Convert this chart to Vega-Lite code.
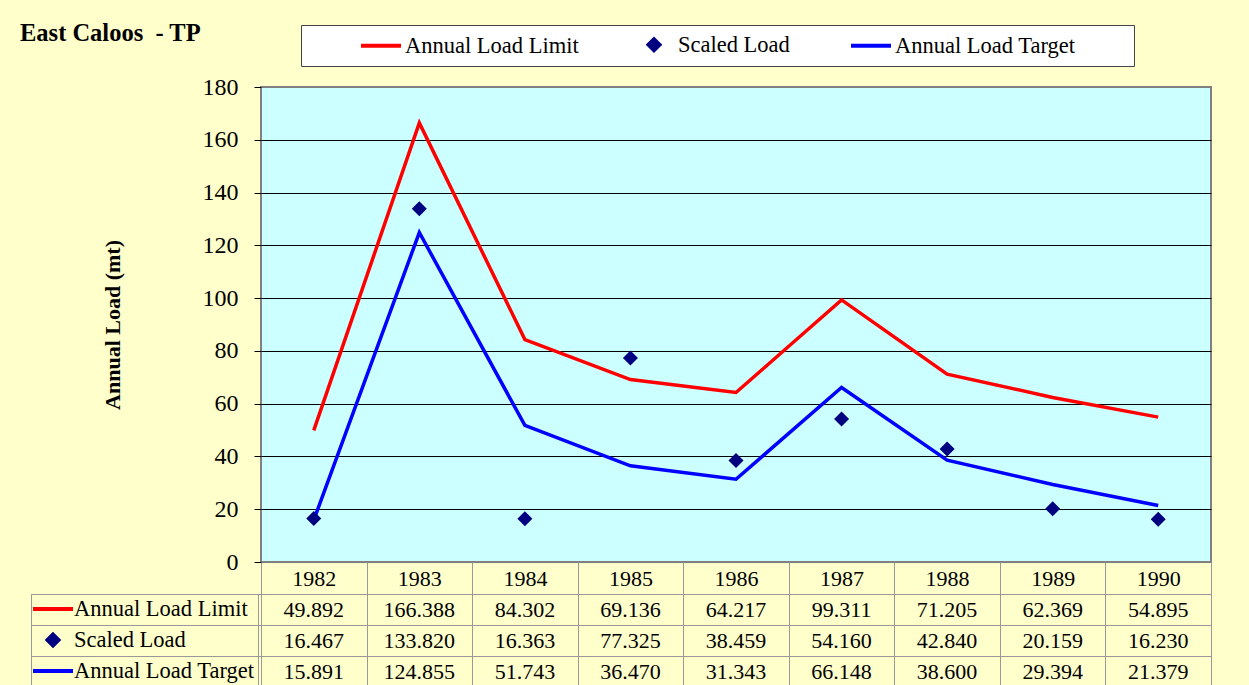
{
  "$schema": "https://vega.github.io/schema/vega-lite/v6.json",
  "background": "#FFFFCC",
  "padding": {"left": 20, "top": 21, "right": 40, "bottom": 0},
  "config": {
    "font": "Liberation Serif",
    "text": {"font": "Liberation Serif"}
  },
  "title": {
    "text": "East Caloos\u00a0 - TP",
    "anchor": "start",
    "frame": "bounds",
    "font": "Liberation Serif",
    "fontSize": 24.5,
    "fontWeight": "bold",
    "color": "black",
    "dx": -10,
    "dy": 23,
    "offset": 0
  },
  "datasets": {
    "loads": [
      {"year": "1982", "series": "Annual Load Limit", "value": 49.892},
      {"year": "1983", "series": "Annual Load Limit", "value": 166.388},
      {"year": "1984", "series": "Annual Load Limit", "value": 84.302},
      {"year": "1985", "series": "Annual Load Limit", "value": 69.136},
      {"year": "1986", "series": "Annual Load Limit", "value": 64.217},
      {"year": "1987", "series": "Annual Load Limit", "value": 99.311},
      {"year": "1988", "series": "Annual Load Limit", "value": 71.205},
      {"year": "1989", "series": "Annual Load Limit", "value": 62.369},
      {"year": "1990", "series": "Annual Load Limit", "value": 54.895},
      {"year": "1982", "series": "Scaled Load", "value": 16.467},
      {"year": "1983", "series": "Scaled Load", "value": 133.820},
      {"year": "1984", "series": "Scaled Load", "value": 16.363},
      {"year": "1985", "series": "Scaled Load", "value": 77.325},
      {"year": "1986", "series": "Scaled Load", "value": 38.459},
      {"year": "1987", "series": "Scaled Load", "value": 54.160},
      {"year": "1988", "series": "Scaled Load", "value": 42.840},
      {"year": "1989", "series": "Scaled Load", "value": 20.159},
      {"year": "1990", "series": "Scaled Load", "value": 16.230},
      {"year": "1982", "series": "Annual Load Target", "value": 15.891},
      {"year": "1983", "series": "Annual Load Target", "value": 124.855},
      {"year": "1984", "series": "Annual Load Target", "value": 51.743},
      {"year": "1985", "series": "Annual Load Target", "value": 36.470},
      {"year": "1986", "series": "Annual Load Target", "value": 31.343},
      {"year": "1987", "series": "Annual Load Target", "value": 66.148},
      {"year": "1988", "series": "Annual Load Target", "value": 38.600},
      {"year": "1989", "series": "Annual Load Target", "value": 29.394},
      {"year": "1990", "series": "Annual Load Target", "value": 21.379}
    ]
  },
  "vconcat": [
    {
      "width": 950,
      "height": 475,
      "view": {"fill": "#CCFFFF", "stroke": "#808080", "strokeWidth": 2},
      "data": {"name": "loads"},
      "encoding": {
        "x": {
          "field": "year",
          "type": "ordinal",
          "scale": {"paddingInner": 0, "paddingOuter": 0},
          "axis": {
            "title": null,
            "labelAngle": 0,
            "labelFontSize": 22,
            "labelColor": "black",
            "labelBaseline": "middle",
            "labelPadding": -16,
            "tickBand": "extent",
            "tickSize": 32,
            "tickColor": "#999999",
            "domain": false,
            "grid": false
          }
        },
        "y": {
          "field": "value",
          "type": "quantitative",
          "scale": {"domain": [0, 180], "nice": false},
          "axis": {
            "title": "Annual Load (mt)",
            "titleFontSize": 22,
            "titleFontWeight": "bold",
            "titleColor": "black",
            "titlePadding": 78,
            "values": [0, 20, 40, 60, 80, 100, 120, 140, 160, 180],
            "labelFontSize": 24,
            "labelColor": "black",
            "labelPadding": 16,
            "tickSize": 7,
            "tickColor": "black",
            "domain": false,
            "grid": true,
            "gridColor": {"condition": {"test": "datum.value == 0 || datum.value == 180", "value": "transparent"}, "value": "black"},
            "gridWidth": 1
          }
        },
        "color": {
          "field": "series",
          "type": "nominal",
          "scale": {
            "domain": ["Annual Load Limit", "Scaled Load", "Annual Load Target"],
            "range": ["#FF0000", "#000080", "#0000FF"]
          },
          "legend": {
            "orient": "none",
            "legendX": 40,
            "legendY": -62,
            "direction": "horizontal",
            "title": " ",
            "titleOrient": "left",
            "titlePadding": 50.5,
            "titleFontSize": 20,
            "padding": 7.5,
            "fillColor": "white",
            "strokeColor": "#444444",
            "symbolSize": 400,
            "symbolOffset": 10,
            "symbolStrokeWidth": 4,
            "labelFontSize": 22.5,
            "labelColor": "black",
            "labelOffset": 12,
            "labelLimit": 400,
            "columnPadding": 53,
            "labelExpr": "datum.label == 'Annual Load Target' ? datum.label + '\u2800\u2800\u2800' : datum.label",
            "encode": {
              "symbols": {
                "update": {
                  "shape": {"signal": "datum.value === 'Scaled Load' ? 'diamond' : 'M-2,0L2,0'"},
                  "size": {"signal": "datum.value === 'Scaled Load' ? 120 : 400"},
                  "fill": {"signal": "datum.value === 'Scaled Load' ? '#000080' : 'transparent'"},
                  "stroke": {"signal": "datum.value === 'Annual Load Limit' ? '#FF0000' : datum.value === 'Annual Load Target' ? '#0000FF' : 'transparent'"},
                  "strokeWidth": {"value": 4},
                  "opacity": {"value": 1}
                }
              }
            }
          }
        }
      },
      "layer": [
        {
          "transform": [{"filter": "datum.series != 'Scaled Load'"}],
          "mark": {"type": "line", "strokeWidth": 3.5}
        },
        {
          "transform": [{"filter": "datum.series == 'Scaled Load'"}],
          "mark": {"type": "point", "shape": "diamond", "filled": true, "size": 225, "opacity": 1}
        }
      ]
    },
    {
      "width": 950,
      "height": 93,
      "view": {"fill": null, "stroke": "#999999", "strokeWidth": 1},
      "data": {"name": "loads"},
      "encoding": {
        "x": {
          "field": "year",
          "type": "ordinal",
          "scale": {"paddingInner": 0, "paddingOuter": 0},
          "axis": {
            "title": null,
            "labels": false,
            "ticks": false,
            "domain": false,
            "grid": true,
            "tickBand": "extent",
            "gridColor": "#999999"
          }
        },
        "y": {
          "field": "series",
          "type": "nominal",
          "sort": ["Annual Load Limit", "Scaled Load", "Annual Load Target"],
          "scale": {"paddingInner": 0, "paddingOuter": 0},
          "axis": {
            "title": null,
            "labels": false,
            "ticks": true,
            "tickSize": 230,
            "tickColor": "#999999",
            "tickBand": "extent",
            "domain": false,
            "grid": true,
            "gridColor": "#999999"
          }
        }
      },
      "layer": [
        {
          "mark": {"type": "text", "fontSize": 22, "color": "black", "font": "Liberation Serif"},
          "encoding": {"text": {"field": "value", "type": "quantitative", "format": ".3f"}}
        },
        {
          "encoding": {
            "color": {
              "field": "series",
              "type": "nominal",
              "scale": {
                "domain": ["Annual Load Limit", "Scaled Load", "Annual Load Target"],
                "range": ["#FF0000", "#000080", "#0000FF"]
              },
              "legend": {
                "orient": "none",
                "legendX": -230,
                "legendY": 0,
                "direction": "vertical",
                "title": null,
                "padding": 3,
                "strokeColor": "#999999",
                "symbolSize": 400,
                "symbolOffset": 7,
                "symbolStrokeWidth": 4,
                "labelFontSize": 22.5,
                "labelColor": "black",
                "labelOffset": 9,
                "labelLimit": 400,
                "rowPadding": 5,
                "encode": {
                  "symbols": {
                    "update": {
                      "shape": {"signal": "datum.value === 'Scaled Load' ? 'diamond' : 'M-2,0L2,0'"},
                      "size": {"signal": "datum.value === 'Scaled Load' ? 120 : 400"},
                      "fill": {"signal": "datum.value === 'Scaled Load' ? '#000080' : 'transparent'"},
                      "stroke": {"signal": "datum.value === 'Annual Load Limit' ? '#FF0000' : datum.value === 'Annual Load Target' ? '#0000FF' : 'transparent'"},
                      "strokeWidth": {"value": 4},
                      "opacity": {"value": 1}
                    }
                  }
                }
              }
            }
          },
          "layer": [
            {
              "transform": [{"filter": "datum.series != 'Scaled Load'"}],
              "mark": {"type": "line", "strokeWidth": 3.5, "opacity": 0}
            },
            {
              "transform": [{"filter": "datum.series == 'Scaled Load'"}],
              "mark": {"type": "point", "shape": "diamond", "filled": true, "size": 225, "opacity": 0}
            }
          ]
        }
      ]
    }
  ],
  "spacing": 32,
  "bounds": "flush",
  "resolve": {"scale": {"color": "independent"}, "legend": {"color": "independent"}}
}
